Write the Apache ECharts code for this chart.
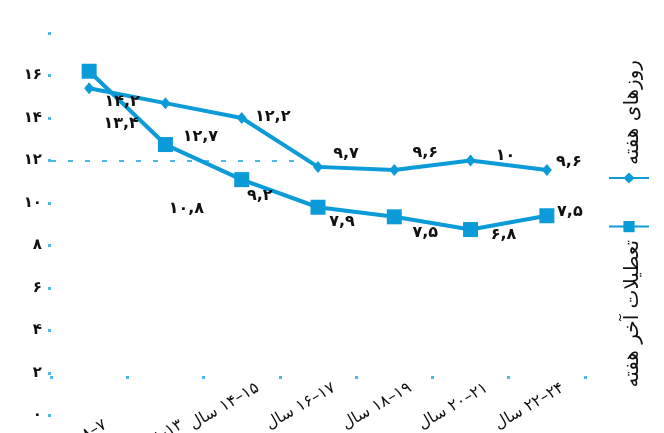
<!DOCTYPE html>
<html><head><meta charset="utf-8">
<script src="https://cdn.jsdelivr.net/npm/echarts@6/dist/echarts.min.js"></script>
<style>html,body{margin:0;padding:0;background:#fff}#c{width:664px;height:433px}</style>
</head><body><div id="c"></div>
<script>
// ---- data ----
const categories = ['۸–۷', '۱۲–۱۳', '۱۴–۱۵', '۱۶–۱۷', '۱۸–۱۹', '۲۰–۲۱', '۲۲–۲۴'];
const yearWord = 'سال';
const weekdayName = 'روزهای هفته';
const weekendName = 'تعطیلات آخر هفته';
const weekdayValues = [15.4, 14.7, 14.0, 11.7, 11.55, 12.0, 11.55];
const weekendValues = [16.2, 12.75, 11.1, 9.8, 9.35, 8.75, 9.4];
const weekdayLabels = ['۱۴,۲', '۱۲,۷', '۱۲,۲', '۹,۷', '۹,۶', '۱۰', '۹,۶'];
const weekendLabels = ['۱۳,۴', '۱۰,۸', '۹,۲', '۷,۹', '۷,۵', '۶,۸', '۷,۵'];
const yTickLabels = ['۰', '۲', '۴', '۶', '۸', '۱۰', '۱۲', '۱۴', '۱۶', ''];

// ---- styles ----
const C = '#0a9bd8';
const LC = '#4db8e8';
const FONT = '"DejaVu Sans", sans-serif';
const wdOffsets = [[33,14],[35,34],[31,-1],[28,-13],[31,-17],[35,-5],[22,-8]];
const weOffsets = [[32,53],[21,64],[18,16],[24,15],[31,16],[33,5],[23,-4]];
const xLabelPadding = [[32,4.5,0,0],[32,4.5,0,0],[0,-14,0,0],[0,-14,0,0],[0,-14,0,0],[0,-14,0,0],[0,-14,0,0]];
const halfLine = {type:'linear', x:0, y:0, x2:1, y2:0, colorStops:[
  {offset:0, color:LC}, {offset:0.5, color:LC}, {offset:0.51, color:'rgba(77,184,232,0)'}, {offset:1, color:'rgba(77,184,232,0)'}]};
const gridColors = yTickLabels.map((t, i) => i === 6 ? halfLine : 'rgba(0,0,0,0)');
const labelStyle = {show:true, position:'inside', color:'#111', fontSize:16, fontWeight:'bold', fontFamily:FONT};

const chart = echarts.init(document.getElementById('c'), null, {renderer:'canvas'});
chart.setOption({
  animation:false,
  grid:{left:51, right:79, top:33, bottom:17.5, outerBoundsMode:'none', containLabel:false},
  xAxis:{
    type:'category', boundaryGap:true, offset:-39.5,
    data: categories.map((c, i) => ({value:c, textStyle:{align:'right', verticalAlign:'top', padding:xLabelPadding[i]}})),
    axisLine:{show:false},
    axisTick:{show:true, length:3, lineStyle:{color:LC, width:3}},
    axisLabel:{interval:0, rotate:30, margin:11,
      color:'#111', fontSize:16, fontFamily:FONT,
      formatter: v => yearWord + ' \u200E' + v},
    splitLine:{show:false}
  },
  yAxis:{
    type:'value', min:0, max:18, interval:2,
    axisLine:{show:false},
    axisTick:{show:true, length:3, lineStyle:{color:LC, width:3}},
    axisLabel:{margin:9, color:'#111', fontSize:15, fontWeight:'bold', fontFamily:FONT,
      formatter: v => yTickLabels[Math.round(v/2)]},
    splitLine:{show:true, lineStyle:{color:gridColors, width:2, type:[5,12]}}
  },
  legend:{
    orient:'vertical', left:603, top:166, itemWidth:40, itemHeight:14, itemGap:36,
    selectedMode:false, formatter:() => '', textStyle:{fontSize:1},
    data:[weekdayName, weekendName]
  },
  graphic:[
    {type:'text', x:633, y:60, rotation:Math.PI/2,
     style:{text:weekdayName, align:'right', verticalAlign:'middle', font:'20px ' + FONT, fill:'#111'}},
    {type:'text', x:633, y:240, rotation:Math.PI/2,
     style:{text:weekendName, align:'right', verticalAlign:'middle', font:'20px ' + FONT, fill:'#111'}}
  ],
  series:[
    {type:'line', name:weekdayName, z:3,
     data: weekdayValues.map((v, i) => ({value:v, label:{offset:wdOffsets[i]}})),
     symbol:'diamond', symbolSize:[10,12], lineStyle:{width:4, color:C}, itemStyle:{color:C},
     label:Object.assign({}, labelStyle, {formatter: p => weekdayLabels[p.dataIndex]})},
    {type:'line', name:weekendName, z:3,
     data: weekendValues.map((v, i) => ({value:v, label:{offset:weOffsets[i]}})),
     symbol:'rect', symbolSize:15, lineStyle:{width:4, color:C}, itemStyle:{color:C},
     label:Object.assign({}, labelStyle, {formatter: p => weekendLabels[p.dataIndex]})}
  ]
});
</script></body></html>
